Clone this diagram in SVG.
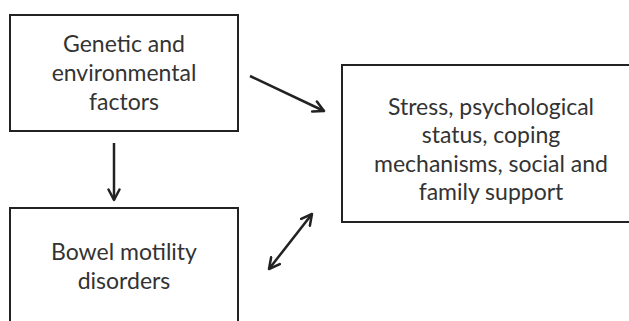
<svg xmlns="http://www.w3.org/2000/svg" width="629" height="321" viewBox="0 0 629 321">
<style>
.box{fill:#fff;stroke:#222;stroke-width:2}
.t{font-family:Lato,"Open Sans",sans-serif;font-size:23px;fill:#333;text-anchor:middle}
.c{stroke:#222;stroke-width:2.5;fill:none}
</style>
<defs>
<marker id="ah" viewBox="0 0 14 14" refX="12" refY="7" markerWidth="14" markerHeight="14" markerUnits="userSpaceOnUse" orient="auto-start-reverse">
<path d="M1.5,1.5 L12,7 L1.5,12.5" fill="none" stroke="#222" stroke-width="2.5" stroke-linecap="round" stroke-linejoin="round"/>
</marker>
</defs>
<rect width="629" height="321" fill="#fff"/>
<g id="genetic">
<rect class="box" x="10" y="15" width="228" height="116"/>
<text class="t" x="124" y="52">Genetic and</text>
<text class="t" x="124" y="81">environmental</text>
<text class="t" x="124" y="110">factors</text>
</g>
<g id="bowel">
<rect class="box" x="10" y="208" width="228" height="130"/>
<text class="t" x="124" y="260">Bowel motility</text>
<text class="t" x="124" y="289">disorders</text>
</g>
<g id="stress">
<rect class="box" x="342" y="65" width="300" height="157"/>
<text class="t" x="491" y="115">Stress, psychological</text>
<text class="t" x="491" y="143">status, coping</text>
<text class="t" x="491" y="172">mechanisms, social and</text>
<text class="t" x="491" y="200">family support</text>
</g>
<g id="connectors">
<line class="c" x1="250" y1="76" x2="324" y2="111" marker-end="url(#ah)"/>
<line class="c" x1="114" y1="143" x2="114" y2="200" marker-end="url(#ah)"/>
<line class="c" x1="269" y1="269" x2="312" y2="214" marker-start="url(#ah)" marker-end="url(#ah)"/>
</g>
</svg>
